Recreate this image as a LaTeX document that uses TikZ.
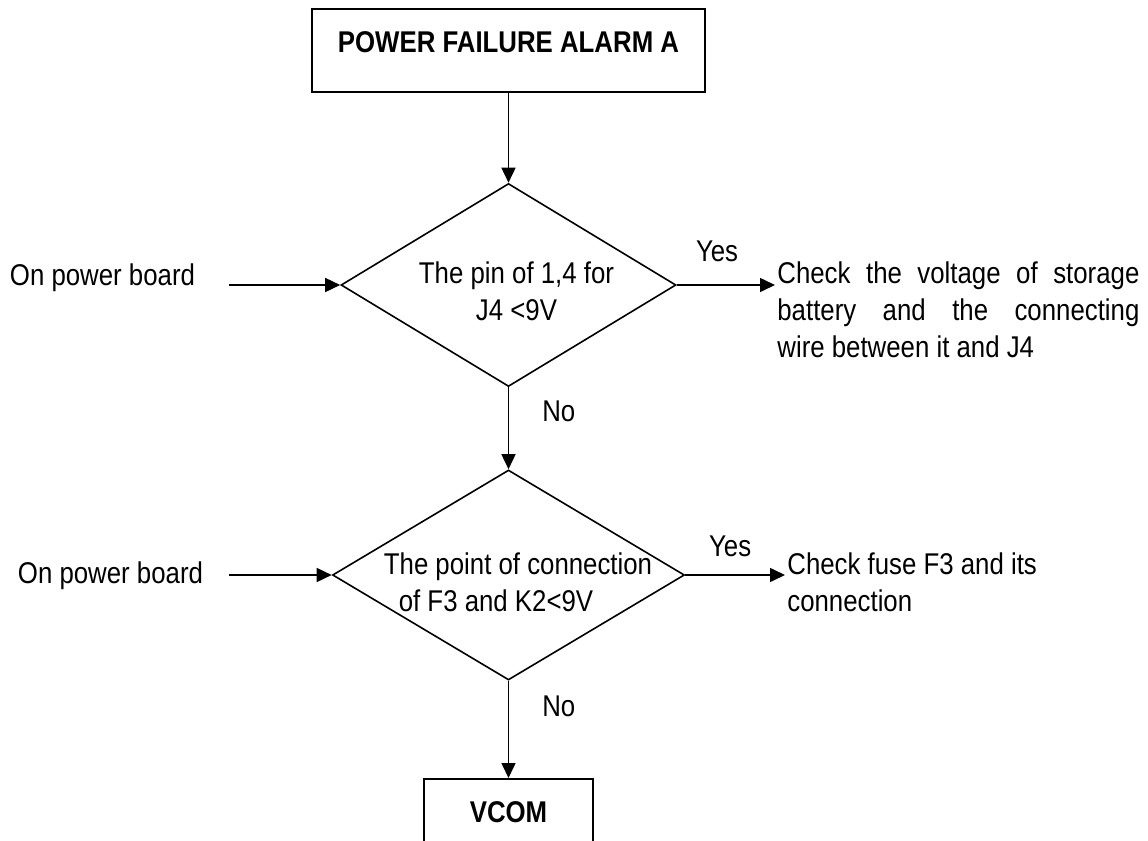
\documentclass[tikz,border=0pt]{standalone}
\usepackage{fontspec}
\setmainfont{Liberation Sans}[FakeStretch=0.86]
\usepackage{tikz}
\usetikzlibrary{shapes.geometric, arrows.meta, positioning}

% one centred line of a decision text, moved sideways by #1
\newcommand{\shiftline}[2]{\makebox[0pt]{\hspace*{#1}\hspace*{#1}#2}}

\begin{document}
\begin{tikzpicture}[x=0.5pt, y=-0.5pt]
	% Styles
	\tikzstyle{txt} = [font=\fontsize{15}{18.5}\selectfont, inner sep=0pt]
	\tikzstyle{process} = [draw, line width=0.8pt, rectangle, txt, font=\fontsize{15}{18.5}\selectfont\bfseries]
	\tikzstyle{decision} = [draw, line width=0.8pt, diamond, txt, align=center]
	\tikzstyle{arrow} = [line width=0.8pt, -{Triangle[length=7.5pt, width=7pt]}]

	\useasboundingbox (0,0) rectangle (1148,841);

	% Nodes with absolute coordinates (pixels of the sheet)
	\node (alarm) [process, minimum width=196.5pt, minimum height=41.5pt, text height=1.5pt, text depth=0pt] at (508.5,50.5) {POWER FAILURE ALARM A};
	\node (pin) [decision, minimum width=167.5pt, minimum height=101.5pt, text height=35pt, text depth=0pt] at (508.5,285) {\shiftline{4pt}{The pin of 1,4 for}\\\shiftline{4pt}{J4 <9V}};
	\node (test) [decision, minimum width=176pt, minimum height=105pt, text height=36pt, text depth=0pt] at (508.5,575) {\shiftline{4.75pt}{The point of connection}\\\shiftline{-6.25pt}{of F3 and K2<9V}};
	\node (vcom) [process, anchor=north, minimum width=84.5pt, minimum height=36pt, text height=8pt, text depth=0pt] at (508.5,778) {VCOM};

	\node (board1) [txt, anchor=base] at (102.5,285) {On power board};
	\node (board2) [txt, anchor=base] at (110.5,583) {On power board};
	\node (check1) [txt, anchor=base west, text width=181pt, align=justify] at (777,283) {Check the voltage of storage\linebreak battery and the connecting\linebreak wire between it and J4};
	\node (check2) [txt, anchor=base west, align=left] at (787,611) {Check fuse F3 and its\\connection};

	\coordinate (in1) at (229,285);
	\coordinate (in2) at (229,575);
	\coordinate (out1) at (775,285);
	\coordinate (out2) at (785,575);

	% Connections
	\draw [arrow] (alarm) -- (pin);
	\draw [arrow] (pin) -- node [txt, right=16.5pt, pos=0.29] {No} (test);
	\draw [arrow] (test) -- node [txt, right=16.5pt, pos=0.26] {No} (vcom);
	\draw [arrow] (in1) -- (pin);
	\draw [arrow] (in2) -- (test);
	\draw [arrow] (pin) -- node [txt, above=11pt, pos=0.41] {Yes} (out1);
	\draw [arrow] (test) -- node [txt, above=8.5pt, pos=0.45] {Yes} (out2);

\end{tikzpicture}
\end{document}
